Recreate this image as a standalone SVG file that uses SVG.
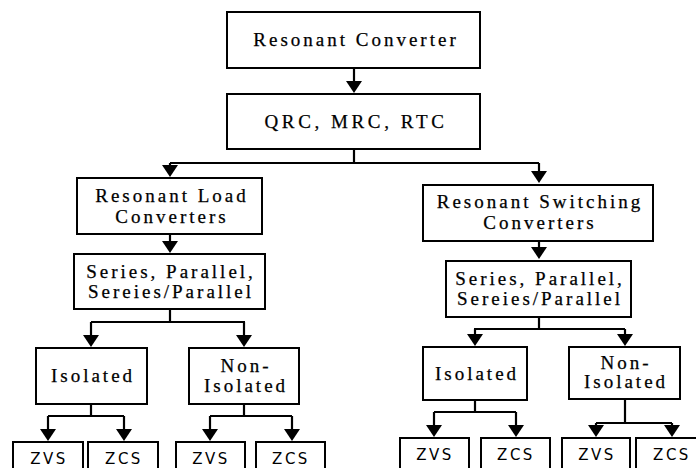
<svg xmlns="http://www.w3.org/2000/svg" width="696" height="468" viewBox="0 0 696 468">
<style>
.box{fill:#fff;stroke:#000;stroke-width:2}
.t{font-family:'Liberation Serif','Times New Roman',serif;font-size:19px;letter-spacing:3px;text-anchor:middle;fill:#000;stroke:#000;stroke-width:0.25}
.s{font-family:'DejaVu Sans',Verdana,sans-serif;font-size:15px;letter-spacing:2.5px;text-anchor:middle;fill:#000}
.c{fill:none;stroke:#000;stroke-width:2.2;marker-end:url(#ah)}
.c0{fill:none;stroke:#000;stroke-width:2.2}
</style>
<defs>
<marker id="ah" markerUnits="userSpaceOnUse" viewBox="0 0 12 16" markerWidth="12" markerHeight="16" refX="2" refY="8" orient="auto">
<path d="M0,0 L12,8 L0,16 z" fill="#000"/>
</marker>
</defs>
<rect width="696" height="468" fill="#fff"/>
<g id="connectors">
<path class="c" d="M354,68 V83"/>
<path class="c0" d="M354,149 V163 M170,163 H539"/>
<path class="c" d="M170,163 V167"/>
<path class="c" d="M539,163 V173"/>
<path class="c" d="M170,234 V243"/>
<path class="c" d="M539,241 V249"/>
<path class="c0" d="M170,309 V322 M91,322 H245 M474,329 H625 M539,317 V329"/>
<path class="c" d="M91,322 V337"/>
<path class="c" d="M244,322 V337"/>
<path class="c" d="M475,329 V336"/>
<path class="c" d="M625,329 V336"/>
<path class="c0" d="M91,404 V416 M48,416 H124 M244,404 V416 M210,416 H292"/>
<path class="c" d="M48,416 V431"/>
<path class="c" d="M124,416 V431"/>
<path class="c" d="M210,416 V431"/>
<path class="c" d="M292,416 V431"/>
<path class="c0" d="M475,400 V412 M434,412 H516 M625,399 V423 M596,423 H672"/>
<path class="c" d="M434,412 V427"/>
<path class="c" d="M516,412 V427"/>
<path class="c" d="M596,423 V427"/>
<path class="c" d="M672,423 V427"/>
</g>
<g id="n-resonant-converter"><rect class="box" x="227" y="12" width="253" height="56"/><text class="t" x="356" y="46">Resonant Converter</text></g>
<g id="n-qrc"><rect class="box" x="227" y="94" width="253" height="55"/><text class="t" x="356" y="128" style="letter-spacing:3.6px">QRC, MRC, RTC</text></g>
<g id="n-rlc"><rect class="box" x="77" y="178" width="185" height="56"/><text class="t" x="172" y="202">Resonant Load</text><text class="t" x="172" y="223">Converters</text></g>
<g id="n-rsc"><rect class="box" x="423" y="185" width="230" height="56"/><text class="t" x="540" y="208">Resonant Switching</text><text class="t" x="540" y="229">Converters</text></g>
<g id="n-spl"><rect class="box" x="74" y="254" width="191" height="55"/><text class="t" x="171" y="278">Series, Parallel,</text><text class="t" x="171" y="298">Sereies/Parallel</text></g>
<g id="n-spr"><rect class="box" x="446" y="261" width="185" height="56"/><text class="t" x="540" y="285">Series, Parallel,</text><text class="t" x="540" y="305">Sereies/Parallel</text></g>
<g id="n-iso-l"><rect class="box" x="36" y="348" width="111" height="56"/><text class="t" x="93" y="382">Isolated</text></g>
<g id="n-non-l"><rect class="box" x="189" y="348" width="110" height="56"/><text class="t" x="246" y="372">Non-</text><text class="t" x="246" y="392">Isolated</text></g>
<g id="n-iso-r"><rect class="box" x="423" y="347" width="104" height="53"/><text class="t" x="477" y="380">Isolated</text></g>
<g id="n-non-r"><rect class="box" x="569" y="347" width="111" height="52"/><text class="t" x="626" y="369">Non-</text><text class="t" x="626" y="388">Isolated</text></g>
<g id="n-zvs-1"><rect class="box" x="13" y="442" width="70" height="40"/><text class="s" x="49" y="464">ZVS</text></g>
<g id="n-zcs-1"><rect class="box" x="88" y="442" width="70" height="40"/><text class="s" x="124" y="464">ZCS</text></g>
<g id="n-zvs-2"><rect class="box" x="176" y="442" width="69" height="40"/><text class="s" x="211" y="464">ZVS</text></g>
<g id="n-zcs-2"><rect class="box" x="256" y="442" width="69" height="40"/><text class="s" x="291" y="464">ZCS</text></g>
<g id="n-zvs-3"><rect class="box" x="400" y="438" width="69" height="40"/><text class="s" x="435" y="460">ZVS</text></g>
<g id="n-zcs-3"><rect class="box" x="481" y="438" width="69" height="40"/><text class="s" x="516" y="460">ZCS</text></g>
<g id="n-zvs-4"><rect class="box" x="562" y="438" width="68" height="40"/><text class="s" x="597" y="460">ZVS</text></g>
<g id="n-zcs-4"><rect class="box" x="636" y="438" width="70" height="40"/><text class="s" x="672" y="460">ZCS</text></g>
</svg>
